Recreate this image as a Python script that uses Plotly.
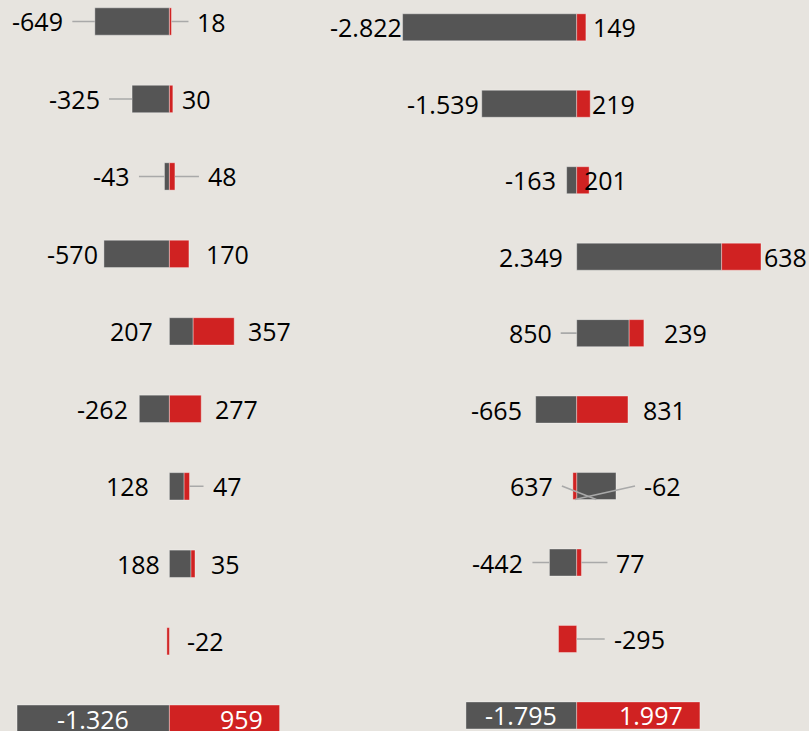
import plotly.graph_objects as go

# ---------------- data ----------------
rows = list(range(10))
left_grey = [-649, -325, -43, -570, 207, -262, 128, 188, None, -1326]
left_red = [18, 30, 48, 170, 357, 277, 47, 35, -22, 959]
right_grey = [-2822, -1539, -163, 2349, 850, -665, 637, -442, None, -1795]
right_red = [149, 219, 201, 638, 239, 831, -62, 77, -295, 1997]
total_row = 9

# ---------------- label layout styles ----------------
# pixel gap between label text and the bar end; leader flag (0 none, 1 to bar edge, 2 to segment middle)
left_grey_gap = [31.5, 32, 34.5, 6, 16, 11, 20, 9.5, 0, 0]
left_red_gap = [26, 9, 33, 17, 14, 14, 23, 16, 17.5, 0]
right_grey_gap = [1, 2.5, 10.5, 14, 25, 13.3, 20, 26, 0, 0]
right_red_gap = [7, 2, -5, 3, 20, 15, 28, 35, 37, 0]
left_grey_lead = [1, 1, 1, 0, 0, 0, 0, 0, 0, 0]
left_red_lead = [1, 0, 1, 0, 0, 0, 1, 0, 0, 0]
right_grey_lead = [0, 0, 0, 0, 1, 0, 2, 1, 0, 0]
right_red_lead = [0, 0, 0, 0, 0, 0, 2, 1, 1, 0]

W, H = 809, 731
BG = "#E7E4DF"
GREY = "#555555"
RED = "#D02222"
LINE = "#A9A9A9"
FONT = "Open Sans"
FS = 25
BARW = 0.353
PAD, BWD = 8, 1
OFF = PAD + BWD
SPLIT = 0.45

panels = [
    dict(grey=left_grey, red=left_red, gg=left_grey_gap, rg=left_red_gap,
         gl=left_grey_lead, rl=left_red_lead, zero=169.4, scale=0.1149,
         row0=21.5, step=77.47, dom=[0, SPLIT], xa="x", ya="y"),
    dict(grey=right_grey, red=right_red, gg=right_grey_gap, rg=right_red_gap,
         gl=right_grey_lead, rl=right_red_lead, zero=576.7, scale=0.0617,
         row0=27.3, step=76.46, dom=[SPLIT, 1], xa="x2", ya="y2"),
]


def fmt(v):
    return f"{v:,}".replace(",", ".")


fig = go.Figure()
annotations = []
layout_axes = {}

for k, p in enumerate(panels):
    fig.add_trace(go.Bar(y=rows, x=p["grey"], orientation="h", width=BARW,
                         marker=dict(color=GREY, line=dict(color="rgba(255,255,255,0.35)", width=1)),
                         xaxis=p["xa"], yaxis=p["ya"], hoverinfo="skip", showlegend=False))
    fig.add_trace(go.Bar(y=rows, x=p["red"], orientation="h", width=BARW,
                         marker=dict(color=RED, line=dict(color="rgba(255,255,255,0.35)", width=1)),
                         xaxis=p["xa"], yaxis=p["ya"], hoverinfo="skip", showlegend=False))

    d0, d1 = p["dom"][0] * W, p["dom"][1] * W
    xr = [(d0 - p["zero"]) / p["scale"], (d1 - p["zero"]) / p["scale"]]
    yr = [(H - p["row0"]) / p["step"], -p["row0"] / p["step"]]
    sfx = "" if k == 0 else "2"
    layout_axes["xaxis" + sfx] = dict(domain=p["dom"], range=xr, visible=False, fixedrange=True,
                                      anchor="y" + sfx)
    layout_axes["yaxis" + sfx] = dict(domain=[0, 1], range=yr, visible=False, fixedrange=True,
                                      anchor="x" + sfx)

    half_px = BARW / 2 * p["step"]
    for i in rows:
        g, r = p["grey"][i], p["red"][i]
        vals = [v for v in (g, r) if v is not None]
        L = min(0, sum(v for v in vals if v < 0))
        R = max(0, sum(v for v in vals if v > 0))
        gv = g if g is not None else 0
        rbase = gv if (gv * r > 0) else 0
        if i == total_row:
            annotations.append(dict(x=g / 2, y=i, xref=p["xa"], yref=p["ya"], text=fmt(g),
                                    showarrow=False, xanchor="center", yanchor="middle",
                                    borderpad=0, borderwidth=0,
                                    font=dict(family=FONT, size=FS, color="white")))
            annotations.append(dict(x=rbase + r, y=i, xref=p["xa"], yref=p["ya"], text=fmt(r),
                                    showarrow=False, xanchor="right", yanchor="middle", xshift=-16.5,
                                    borderpad=0, borderwidth=0,
                                    font=dict(family=FONT, size=FS, color="white")))
            continue
        if g is not None:
            lead, gap = p["gl"][i], p["gg"][i]
            if lead == 2:
                hx, hy, ay = g / 2, i + BARW / 2, -half_px
                ax = (L - hx) * p["scale"] + OFF - gap
            else:
                hx, hy, ay = L, i, 0
                ax = OFF - gap
            annotations.append(dict(x=hx, y=hy, xref=p["xa"], yref=p["ya"], text=fmt(g),
                                    showarrow=True, arrowhead=0, arrowwidth=1.6,
                                    arrowcolor=LINE if lead else "rgba(0,0,0,0)",
                                    ax=ax, ay=ay, axref="pixel", ayref="pixel", standoff=0,
                                    xanchor="right", yanchor="middle",
                                    borderpad=PAD, borderwidth=BWD, bordercolor="rgba(0,0,0,0)",
                                    font=dict(family=FONT, size=FS, color="#000000")))
        lead, gap = p["rl"][i], p["rg"][i]
        if lead == 2:
            hx, hy, ay = rbase + r / 2, i + BARW / 2, -half_px
            ax = (R - hx) * p["scale"] + gap - OFF
        else:
            hx, hy, ay = R, i, 0
            ax = gap - OFF
        annotations.append(dict(x=hx, y=hy, xref=p["xa"], yref=p["ya"], text=fmt(r),
                                showarrow=True, arrowhead=0, arrowwidth=1.6,
                                arrowcolor=LINE if lead else "rgba(0,0,0,0)",
                                ax=ax, ay=ay, axref="pixel", ayref="pixel", standoff=0,
                                xanchor="left", yanchor="middle",
                                borderpad=PAD, borderwidth=BWD, bordercolor="rgba(0,0,0,0)",
                                font=dict(family=FONT, size=FS, color="#000000")))

fig.update_layout(
    width=W, height=H, margin=dict(l=0, r=0, t=0, b=0, pad=0),
    barmode="relative", bargap=0,
    paper_bgcolor=BG, plot_bgcolor=BG,
    annotations=annotations, showlegend=False,
    font=dict(family=FONT, size=FS, color="#000000"),
    **layout_axes,
)

fig.write_html("out.html", config={"displayModeBar": False, "staticPlot": True},
               post_script="document.body.style.margin='0';document.body.style.overflow='hidden';")
